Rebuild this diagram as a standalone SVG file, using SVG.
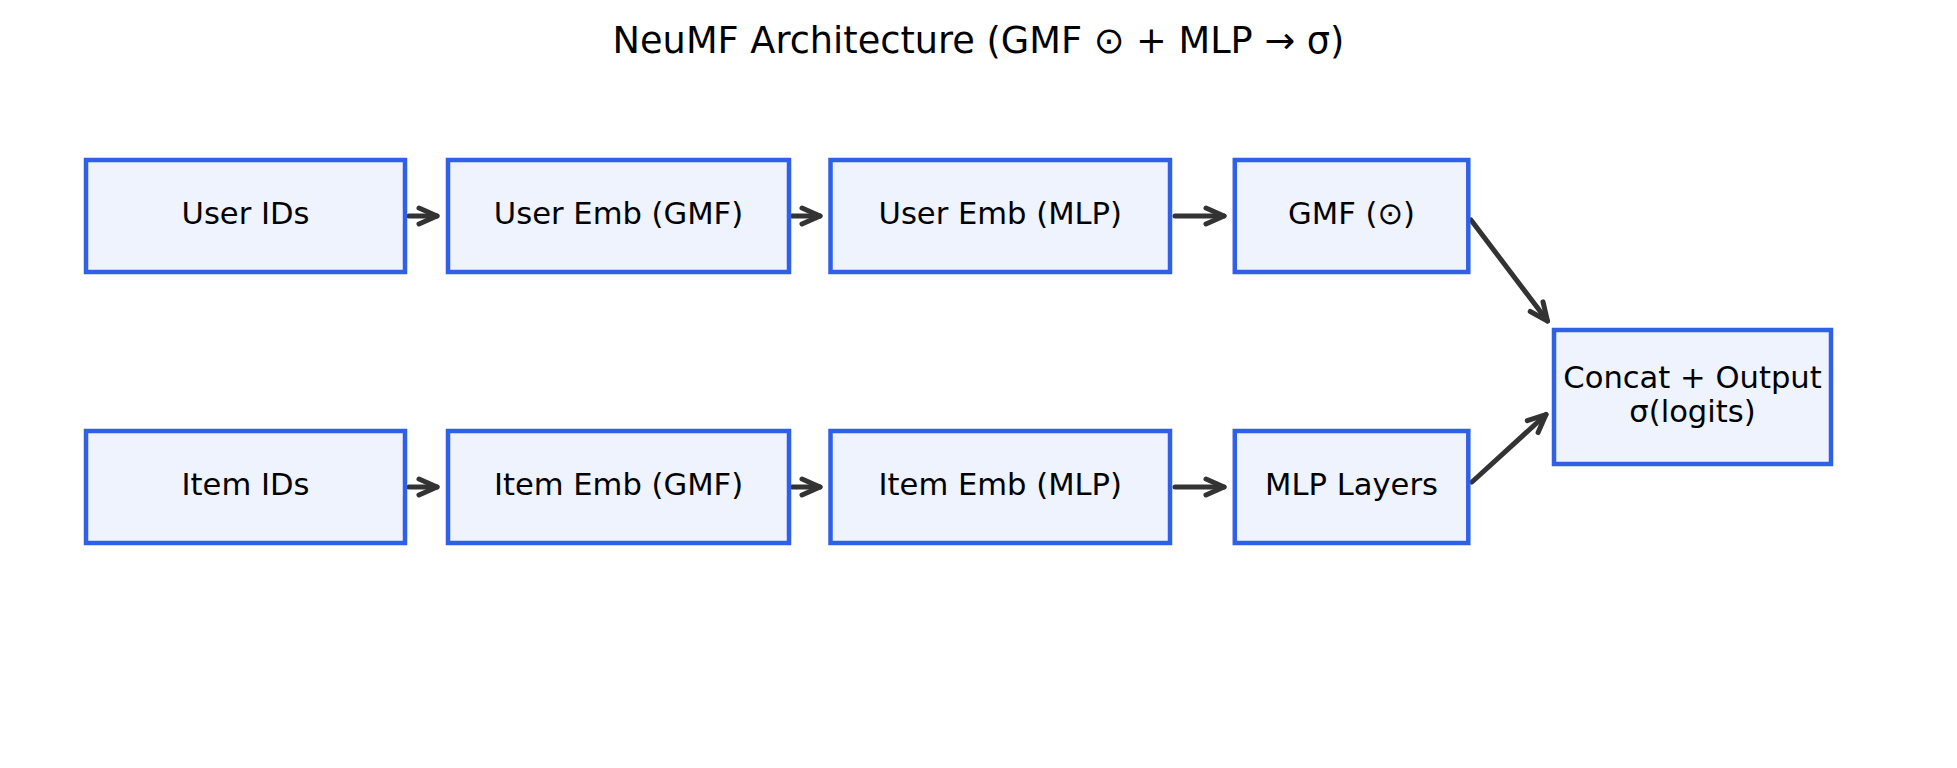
<svg xmlns="http://www.w3.org/2000/svg" width="1957" height="768" viewBox="0 0 1957 768">
  <style>
    .box { fill: #EEF3FE; stroke: #3060E8; stroke-width: 4.5; }
    .lbl { font-family: "DejaVu Sans", "Liberation Sans", sans-serif; font-size: 30.6px; fill: #000; text-anchor: middle; }
    .title { font-family: "DejaVu Sans", "Liberation Sans", sans-serif; font-size: 36.7px; fill: #000; text-anchor: middle; }
    .edge { stroke: #333333; stroke-width: 5; fill: none; stroke-linecap: round; marker-end: url(#arr); }
  </style>
  <defs>
    <marker id="arr" markerUnits="userSpaceOnUse" viewBox="-22 -12 26 24" refX="0" refY="0" markerWidth="26" markerHeight="24" orient="auto">
      <path d="M-18,-8 L0,0 L-18,8" fill="none" stroke="#333333" stroke-width="5" stroke-linecap="round" stroke-linejoin="round"/>
    </marker>
  </defs>
  <rect width="1957" height="768" fill="#FFFFFF"/>
  <text class="title" x="978.5" y="52.5">NeuMF Architecture (GMF ⊙ + MLP → σ)</text>

  <g id="connectors">
    <line class="edge" x1="409" y1="216" x2="437" y2="216"/>
    <line class="edge" x1="792" y1="216" x2="820" y2="216"/>
    <line class="edge" x1="1175" y1="216" x2="1224" y2="216"/>
    <line class="edge" x1="409" y1="487" x2="437" y2="487"/>
    <line class="edge" x1="792" y1="487" x2="820" y2="487"/>
    <line class="edge" x1="1175" y1="487" x2="1224" y2="487"/>
    <line class="edge" x1="1471" y1="220" x2="1547.5" y2="321"/>
    <line class="edge" x1="1472" y1="482" x2="1546" y2="414.5"/>
  </g>

  <g id="user_ids">
    <rect class="box" x="86" y="160" width="319" height="112"/>
    <text class="lbl" x="245.5" y="224">User IDs</text>
  </g>
  <g id="user_emb_gmf">
    <rect class="box" x="448" y="160" width="341" height="112"/>
    <text class="lbl" x="618.5" y="224">User Emb (GMF)</text>
  </g>
  <g id="user_emb_mlp">
    <rect class="box" x="830.5" y="160" width="339.5" height="112"/>
    <text class="lbl" x="1000.25" y="224">User Emb (MLP)</text>
  </g>
  <g id="gmf">
    <rect class="box" x="1234.8" y="160" width="233.5" height="112"/>
    <text class="lbl" x="1351.5" y="224">GMF (⊙)</text>
  </g>
  <g id="item_ids">
    <rect class="box" x="86" y="431" width="319" height="112"/>
    <text class="lbl" x="245.5" y="495">Item IDs</text>
  </g>
  <g id="item_emb_gmf">
    <rect class="box" x="448" y="431" width="341" height="112"/>
    <text class="lbl" x="618.5" y="495">Item Emb (GMF)</text>
  </g>
  <g id="item_emb_mlp">
    <rect class="box" x="830.5" y="431" width="339.5" height="112"/>
    <text class="lbl" x="1000.25" y="495">Item Emb (MLP)</text>
  </g>
  <g id="mlp_layers">
    <rect class="box" x="1234.8" y="431" width="233.5" height="112"/>
    <text class="lbl" x="1351.5" y="495">MLP Layers</text>
  </g>
  <g id="concat_output">
    <rect class="box" x="1554" y="330" width="277" height="134"/>
    <text class="lbl" x="1692.5" y="387.5">Concat + Output</text>
    <text class="lbl" x="1692.5" y="421.5">σ(logits)</text>
  </g>
</svg>
